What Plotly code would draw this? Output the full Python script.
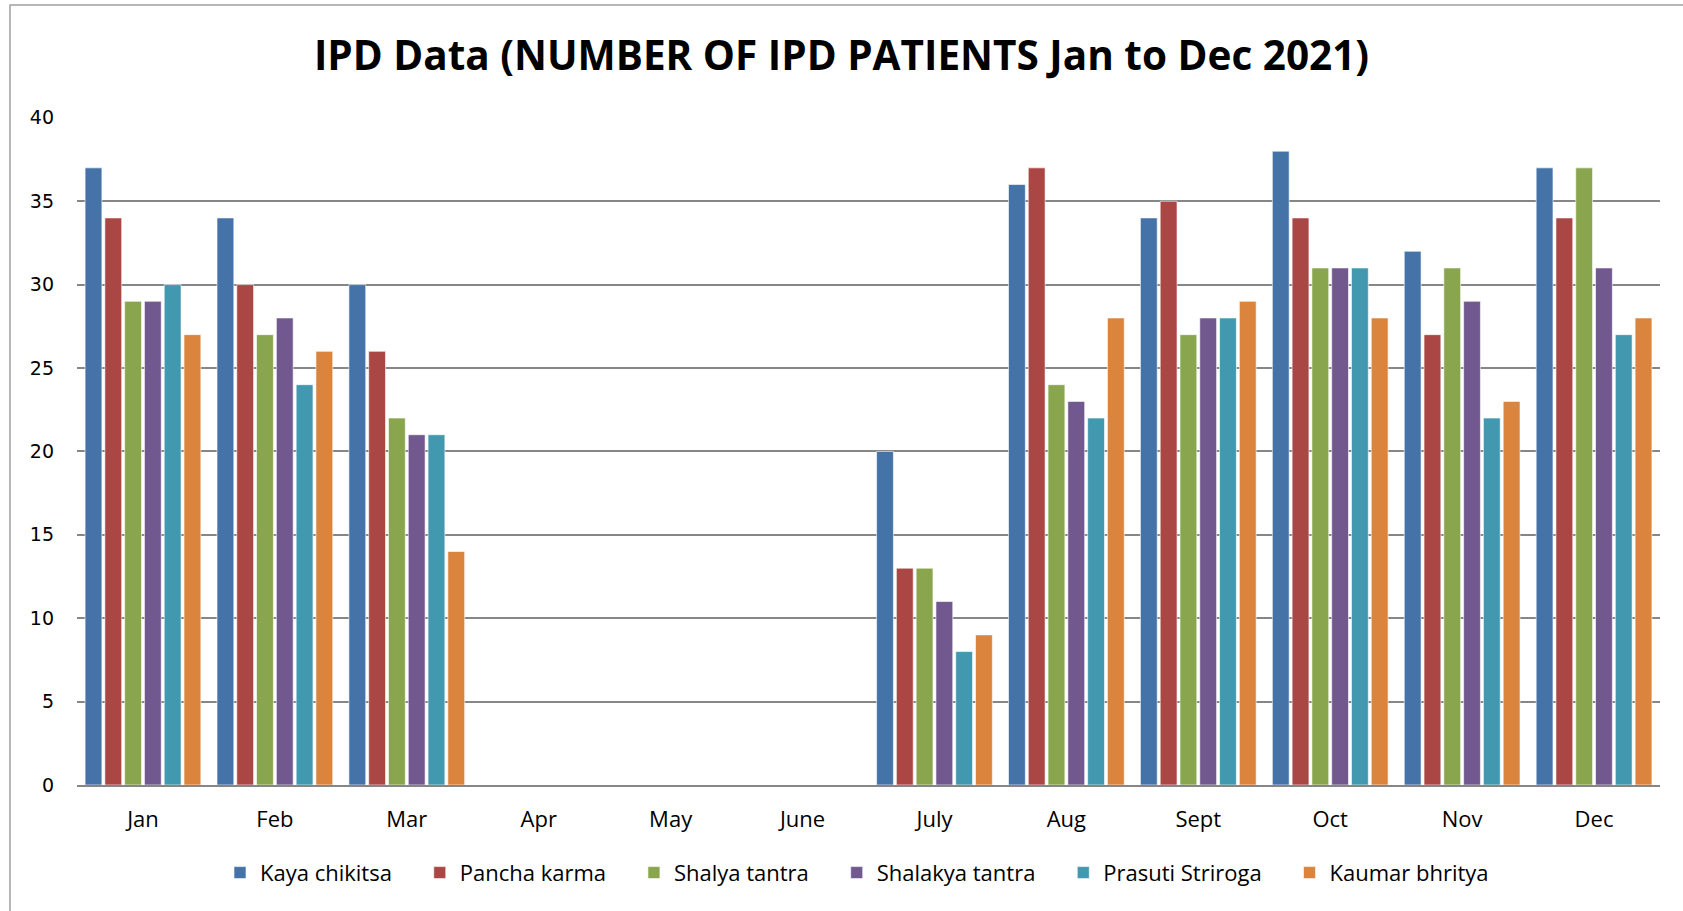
import plotly.graph_objects as go

months = ["Jan", "Feb", "Mar", "Apr", "May", "June", "July", "Aug", "Sept", "Oct", "Nov", "Dec"]
kaya_chikitsa = [37, 34, 30, 0, 0, 0, 20, 36, 34, 38, 32, 37]
pancha_karma = [34, 30, 26, 0, 0, 0, 13, 37, 35, 34, 27, 34]
shalya_tantra = [29, 27, 22, 0, 0, 0, 13, 24, 27, 31, 31, 37]
shalakya_tantra = [29, 28, 21, 0, 0, 0, 11, 23, 28, 31, 29, 31]
prasuti_striroga = [30, 24, 21, 0, 0, 0, 8, 22, 28, 31, 22, 27]
kaumar_bhritya = [27, 26, 14, 0, 0, 0, 9, 28, 29, 28, 23, 28]

series = [
    ("Kaya chikitsa", kaya_chikitsa, "#4572A7"),
    ("Pancha karma", pancha_karma, "#AA4643"),
    ("Shalya tantra", shalya_tantra, "#89A54E"),
    ("Shalakya tantra", shalakya_tantra, "#71588F"),
    ("Prasuti Striroga", prasuti_striroga, "#4198AF"),
    ("Kaumar bhritya", kaumar_bhritya, "#DB843D"),
]

pad = "\u00a0\u00a0\u00a0\u00a0"
fig = go.Figure()
for name, vals, color in series:
    fig.add_trace(go.Bar(x=months, y=vals, name=name + pad,
                         marker=dict(color=color, line=dict(color="rgba(255,255,255,0.6)", width=1))))

fig.update_layout(
    width=1683, height=911,
    paper_bgcolor="white", plot_bgcolor="white",
    margin=dict(l=77, r=23, t=117, b=126),
    barmode="group", bargap=0.1, bargroupgap=0.15,
    title=dict(text="<b>IPD Data (NUMBER OF IPD PATIENTS Jan to Dec 2021)</b>",
               x=0.5, xanchor="center", y=1 - 56 / 911, yanchor="middle",
               font=dict(family="'Open Sans', sans-serif", size=40.5, color="black")),
    legend=dict(orientation="h", x=0.5, xanchor="center", y=-0.1, yanchor="top",
                font=dict(family="'Open Sans', sans-serif", size=22, color="black"),
                itemwidth=30, traceorder="normal"),
    xaxis=dict(showgrid=False, showline=True, linecolor="#868686", linewidth=2,
               ticks="", ticklabelstandoff=14,
               tickfont=dict(family="'Open Sans', sans-serif", size=22, color="black")),
    yaxis=dict(range=[0, 40.05], tickvals=[0, 5, 10, 15, 20, 25, 30, 35, 40],
               showgrid=True, gridcolor="#868686", gridwidth=2,
               zeroline=False, showline=False, ticks="", ticklabelstandoff=22,
               tickfont=dict(family="'DejaVu Sans', Verdana, sans-serif", size=19, color="black")),
    shapes=[dict(type="rect", xref="paper", yref="paper",
                 x0=-67 / 1583, x1=1.05, y0=-0.3, y1=1 + 112 / 668,
                 line=dict(color="#A0A0A0", width=1.5), fillcolor="rgba(0,0,0,0)", layer="below")],
)

fig.write_html("out.html", config={"displayModeBar": False},
               post_script="document.body.style.margin='0';")
